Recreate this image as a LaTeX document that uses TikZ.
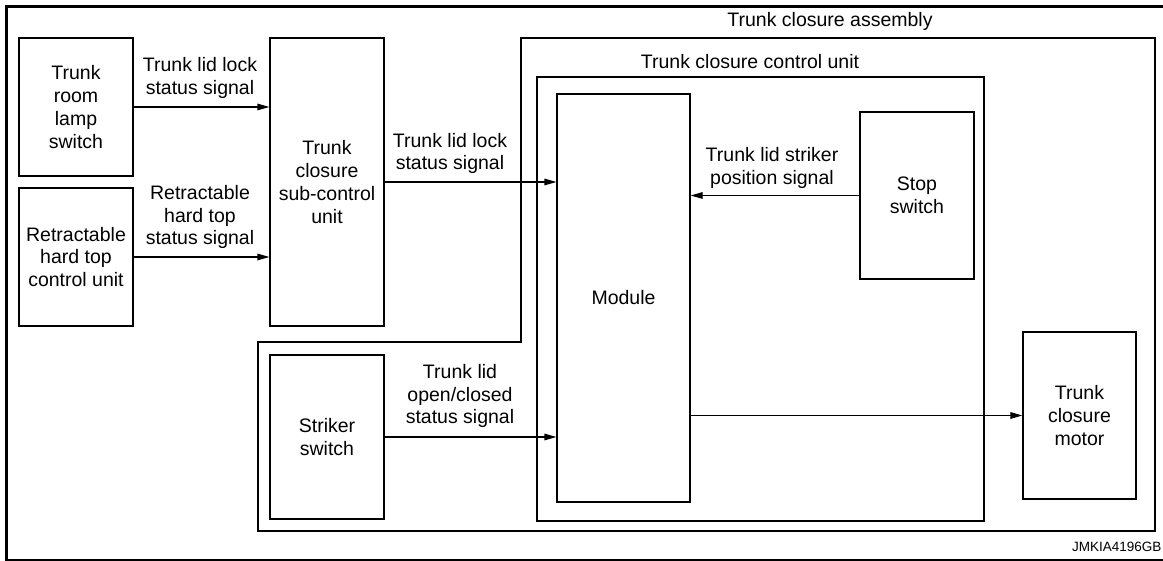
\documentclass[tikz,border=0pt]{standalone}
\usepackage{fontspec}
\setmainfont{Liberation Sans}
\usetikzlibrary{arrows.meta}
\newcommand{\lblfont}{\fontsize{19.5}{22.8}\selectfont}
\begin{document}
\begin{tikzpicture}[x=1pt,y=-1pt,
  box/.style={draw, line width=1.1pt, inner sep=0pt, align=center, font=\lblfont},
  lbl/.style={inner sep=0pt, align=center, font=\lblfont},
  arr/.style={-{Triangle[length=12pt,width=6.5pt]}, line width=1.1pt},
  frame/.style={line width=1.1pt}]
\useasboundingbox (0,0) rectangle (1163,561);
% page frame
\draw[line width=3pt] (6.5,561) -- (6.5,6.5) -- (1170,6.5);
\draw[line width=1.2pt] (5,560) -- (1170,560);
% assembly outline
\draw[frame] (258,531) -- (258,342) -- (521,342) -- (521,38) -- (1155,38) -- (1155,531) -- cycle;
\node[lbl] (asmlbl) at (830,21) {Trunk closure assembly};
% control unit
\node[box, minimum width=447pt, minimum height=444pt] (ctrl) at (760.5,299) {};
\node[lbl] (ctrllbl) at (750,62) {Trunk closure control unit};
% boxes
\node[box, minimum width=114pt, minimum height=138pt] (lamp) at (76,107) {Trunk\\room\\lamp\\switch};
\node[box, minimum width=114pt, minimum height=138pt] (rht) at (76,257) {Retractable\\hard top\\control unit};
\node[box, minimum width=114pt, minimum height=288pt] (sub) at (327,182) {Trunk\\closure\\sub-control\\unit};
\node[box, minimum width=114pt, minimum height=164pt] (striker) at (327,437) {Striker\\switch};
\node[box, minimum width=133pt, minimum height=408pt] (module) at (623.5,298) {Module};
\node[box, minimum width=114pt, minimum height=167pt] (stop) at (917,195.5) {Stop\\switch};
\node[box, minimum width=113pt, minimum height=167pt] (motor) at (1079.5,415.5) {Trunk\\closure\\motor};
% arrows
\draw[arr] (lamp.east) -- (lamp.east -| sub.west);
\draw[arr] (rht.east) -- (rht.east -| sub.west);
\draw[arr] (sub.east) -- (sub.east -| module.west);
\draw[arr] (stop.west) -- (stop.west -| module.east);
\draw[arr] (striker.east) -- (striker.east -| module.west);
\draw[arr] (module.east |- motor.west) -- (motor.west);
% signal labels
\node[lbl] (s1) at (200,78) {Trunk lid lock\\status signal};
\node[lbl] (s2) at (200,217) {Retractable\\hard top\\status signal};
\node[lbl] (s3) at (450,153.5) {Trunk lid lock\\status signal};
\node[lbl] (s4) at (772,168) {Trunk lid striker\\position signal};
\node[lbl] (s5) at (460,396) {Trunk lid\\open/closed\\status signal};
% code
\node[inner sep=0pt, anchor=east, font=\fontsize{13.5}{16}\selectfont] (code) at (1161.5,547) {JMKIA4196GB};
\end{tikzpicture}
\end{document}
